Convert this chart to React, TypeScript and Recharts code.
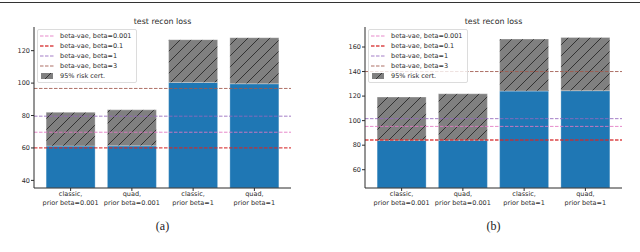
import React from 'react';
import { BarChart, Bar, XAxis, YAxis, ReferenceLine, Legend } from 'recharts';

const categories = [
  'classic,\nprior beta=0.001',
  'quad,\nprior beta=0.001',
  'classic,\nprior beta=1',
  'quad,\nprior beta=1',
];

// panel (a)
const lossA = [61.2, 61.3, 100.4, 99.6];
const certA = [82.0, 83.5, 126.8, 128.0];
const betaA = [69.7, 60.0, 79.6, 96.7];
const ticksA = [40, 60, 80, 100, 120];

// panel (b)
const lossB = [83.9, 84.0, 124.1, 124.4];
const certB = [119.2, 121.9, 166.5, 167.8];
const betaB = [95.3, 84.2, 101.6, 140.0];
const ticksB = [60, 80, 100, 120, 140, 160];

const betaNames = ['beta-vae, beta=0.001', 'beta-vae, beta=0.1', 'beta-vae, beta=1', 'beta-vae, beta=3'];
const betaColors = ['#e377c2', '#d62728', '#9467bd', '#a0584c'];
const certName = '95% risk cert.';

const FONT = '"DejaVu Sans", sans-serif';
const INK = '#2b2b2b';

function XTick({ x, y, payload }: any) {
  const lines = String(payload.value).split('\n');
  return (
    <g transform={`translate(${x},${y})`}>
      <text textAnchor="middle" fontSize={6.5} fontFamily={FONT} fill={INK}>
        {lines.map((l, i) => (
          <tspan key={i} x={0} dy={i === 0 ? 3.4 : 8.7}>
            {l}
          </tspan>
        ))}
      </text>
    </g>
  );
}

function LegendBox({ hatchId }: { hatchId: string }) {
  return (
    <div
      style={{
        background: 'rgba(255,255,255,0.8)',
        border: '1px solid #dcdcdc',
        borderRadius: 2,
        padding: '1px 4px 1px 2px',
        fontFamily: FONT,
        fontSize: 6.5,
        color: INK,
        lineHeight: '10.1px',
        whiteSpace: 'nowrap',
      }}
    >
      {betaNames.map((n, i) => (
        <div key={n} style={{ display: 'flex', alignItems: 'center' }}>
          <svg width={14} height={6} style={{ marginRight: 6 }}>
            <line
              x1={0}
              x2={14}
              y1={3}
              y2={3}
              stroke={betaColors[i]}
              strokeOpacity={0.85}
              strokeWidth={i === 1 ? 1.6 : 1.1}
              strokeDasharray="3.5 1.5"
            />
          </svg>
          {n}
        </div>
      ))}
      <div style={{ display: 'flex', alignItems: 'center' }}>
        <svg width={14} height={6} style={{ marginRight: 6 }}>
          <rect x={1} y={0} width={12} height={6} fill={`url(#${hatchId})`} />
        </svg>
        {certName}
      </div>
    </div>
  );
}

function Panel({
  loss,
  cert,
  beta,
  ticks,
  domain,
  yWidth,
  rightMargin,
  hatchId,
  title,
  caption,
}: {
  loss: number[];
  cert: number[];
  beta: number[];
  ticks: number[];
  domain: [number, number];
  yWidth: number;
  rightMargin: number;
  hatchId: string;
  title: string;
  caption: string;
}) {
  const data = categories.map((c, i) => ({ name: c, loss: loss[i], gap: cert[i] - loss[i] }));
  const plotLeft = yWidth;
  const plotRight = 320 - rightMargin;
  return (
    <div style={{ position: 'relative', width: 320, height: 252 }}>
      <div
        style={{
          position: 'absolute',
          top: 16.5,
          left: plotLeft,
          width: plotRight - plotLeft,
          textAlign: 'center',
          fontFamily: FONT,
          fontSize: 7.9,
          color: INK,
        }}
      >
        {title}
      </div>
      <BarChart
        width={320}
        height={215}
        data={data}
        margin={{ top: 27, right: rightMargin, bottom: 3, left: 0 }}
        barCategoryGap="10%"
      >
        <defs>
          <pattern id={hatchId} patternUnits="userSpaceOnUse" width={11} height={11}>
            <rect width={11} height={11} fill="#808080" />
            <path d="M0,11 L11,0 M-2,2 L2,-2 M9,13 L13,9" stroke="#111" strokeWidth={0.7} />
          </pattern>
        </defs>
        <XAxis
          dataKey="name"
          height={24}
          padding={{ left: 6, right: 6 }}
          tick={<XTick />}
          tickSize={3}
          tickMargin={2}
          interval={0}
          axisLine={{ stroke: INK }}
          tickLine={{ stroke: INK }}
        />
        <XAxis
          xAxisId="top"
          orientation="top"
          dataKey="name"
          height={0}
          tick={false}
          tickLine={false}
          axisLine={{ stroke: INK }}
        />
        <YAxis
          width={yWidth}
          domain={domain}
          allowDataOverflow
          ticks={ticks}
          tickSize={3}
          tickMargin={1}
          tick={{ fontSize: 6.5, fontFamily: FONT, fill: INK }}
          axisLine={{ stroke: INK }}
          tickLine={{ stroke: INK }}
        />
        <YAxis
          yAxisId="right"
          orientation="right"
          width={0}
          domain={domain}
          tick={false}
          tickLine={false}
          axisLine={{ stroke: INK }}
        />
        <Bar
          dataKey="loss"
          stackId="s"
          fill="#1f77b4"
          stroke="#ffffff"
          strokeOpacity={0.5}
          strokeWidth={0.6}
          isAnimationActive={false}
        />
        <Bar
          dataKey="gap"
          stackId="s"
          fill={`url(#${hatchId})`}
          stroke="#ffffff"
          strokeOpacity={0.5}
          strokeWidth={0.6}
          isAnimationActive={false}
        />
        {beta.map((v, i) => (
          <ReferenceLine
            key={betaNames[i]}
            y={v}
            stroke={betaColors[i]}
            strokeOpacity={0.85}
            strokeWidth={i === 1 ? 1.3 : 1}
            strokeDasharray="3.5 1.5"
          />
        ))}
        <Legend
          layout="vertical"
          align="center"
          verticalAlign="middle"
          wrapperStyle={{ left: plotLeft + 3, top: 29, width: 'auto' }}
          content={() => <LegendBox hatchId={hatchId} />}
        />
      </BarChart>
      <div
        style={{
          position: 'absolute',
          top: 219,
          left: plotLeft,
          width: plotRight - plotLeft,
          textAlign: 'center',
          fontFamily: '"Liberation Serif", serif',
          fontSize: 12,
          color: '#222',
        }}
      >
        {caption}
      </div>
    </div>
  );
}

export default function App() {
  return (
    <div
      style={{
        position: 'fixed',
        top: 0,
        left: 0,
        width: 640,
        height: 252,
        background: '#fff',
        overflow: 'hidden',
      }}
    >
      <div style={{ position: 'absolute', top: 2, left: 0, width: 640, height: 1.4, background: '#333' }} />
      <div style={{ position: 'absolute', top: 0, left: 0, display: 'flex' }}>
        <Panel
          loss={lossA}
          cert={certA}
          beta={betaA}
          ticks={ticksA}
          domain={[35.3, 134.6]}
          yWidth={34}
          rightMargin={29}
          hatchId="hatchA"
          title="test recon loss"
          caption="(a)"
        />
        <Panel
          loss={lossB}
          cert={certB}
          beta={betaB}
          ticks={ticksB}
          domain={[45.1, 176.3]}
          yWidth={45}
          rightMargin={18}
          hatchId="hatchB"
          title="test recon loss"
          caption="(b)"
        />
      </div>
    </div>
  );
}
